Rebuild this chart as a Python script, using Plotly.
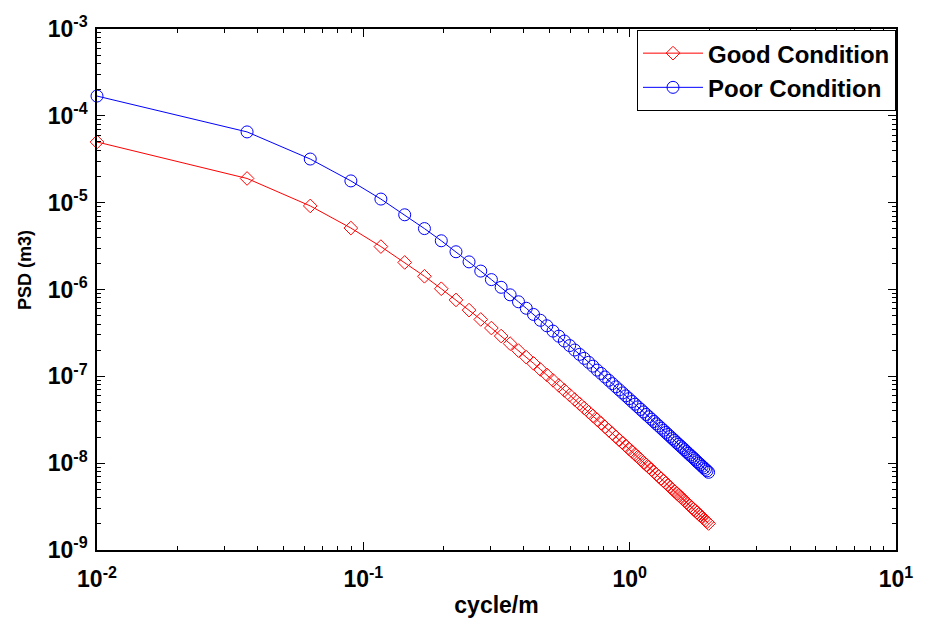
import plotly.graph_objects as go

# spatial frequency (cycle/m)
freq = [0.0100, 0.0366, 0.0632, 0.0898, 0.1164, 0.1430, 0.1696, 0.1962, 0.2228, 0.2494,
        0.2760, 0.3026, 0.3292, 0.3558, 0.3824, 0.4090, 0.4356, 0.4622, 0.4888, 0.5154,
        0.5420, 0.5686, 0.5952, 0.6218, 0.6484, 0.6750, 0.7016, 0.7282, 0.7548, 0.7814,
        0.8080, 0.8346, 0.8612, 0.8878, 0.9144, 0.9410, 0.9676, 0.9942, 1.0208, 1.0474,
        1.0740, 1.1006, 1.1272, 1.1538, 1.1804, 1.2070, 1.2336, 1.2602, 1.2868, 1.3134,
        1.3400, 1.3666, 1.3932, 1.4198, 1.4464, 1.4730, 1.4996, 1.5262, 1.5528, 1.5794,
        1.6060, 1.6326, 1.6592, 1.6858, 1.7124, 1.7390, 1.7656, 1.7922, 1.8188, 1.8454,
        1.8720, 1.8986, 1.9252, 1.9518, 1.9784]

good = [5.00e-5, 1.90e-5, 9.17e-6, 5.10e-6, 3.12e-6, 2.05e-6, 1.42e-6, 1.02e-6, 7.58e-7, 5.79e-7,
        4.52e-7, 3.60e-7, 2.91e-7, 2.38e-7, 1.98e-7, 1.66e-7, 1.41e-7, 1.20e-7, 1.04e-7, 9.00e-8,
        7.86e-8, 6.90e-8, 6.09e-8, 5.41e-8, 4.82e-8, 4.32e-8, 3.88e-8, 3.50e-8, 3.17e-8, 2.88e-8,
        2.62e-8, 2.39e-8, 2.19e-8, 2.01e-8, 1.85e-8, 1.71e-8, 1.58e-8, 1.46e-8, 1.36e-8, 1.26e-8,
        1.18e-8, 1.10e-8, 1.02e-8, 9.58e-9, 8.98e-9, 8.43e-9, 7.92e-9, 7.45e-9, 7.02e-9, 6.62e-9,
        6.25e-9, 5.90e-9, 5.59e-9, 5.29e-9, 5.01e-9, 4.76e-9, 4.52e-9, 4.30e-9, 4.09e-9, 3.89e-9,
        3.71e-9, 3.54e-9, 3.37e-9, 3.22e-9, 3.08e-9, 2.94e-9, 2.82e-9, 2.70e-9, 2.58e-9, 2.48e-9,
        2.38e-9, 2.28e-9, 2.19e-9, 2.11e-9, 2.02e-9]

poor = [1.69e-4, 6.53e-5, 3.18e-5, 1.78e-5, 1.10e-5, 7.25e-6, 5.03e-6, 3.64e-6, 2.72e-6, 2.08e-6,
        1.63e-6, 1.30e-6, 1.06e-6, 8.68e-7, 7.22e-7, 6.08e-7, 5.16e-7, 4.42e-7, 3.82e-7, 3.32e-7,
        2.90e-7, 2.55e-7, 2.26e-7, 2.01e-7, 1.79e-7, 1.61e-7, 1.45e-7, 1.31e-7, 1.18e-7, 1.08e-7,
        9.83e-8, 8.99e-8, 8.24e-8, 7.57e-8, 6.98e-8, 6.44e-8, 5.96e-8, 5.53e-8, 5.13e-8, 4.78e-8,
        4.45e-8, 4.16e-8, 3.89e-8, 3.64e-8, 3.42e-8, 3.21e-8, 3.02e-8, 2.84e-8, 2.68e-8, 2.53e-8,
        2.39e-8, 2.26e-8, 2.14e-8, 2.03e-8, 1.92e-8, 1.83e-8, 1.73e-8, 1.65e-8, 1.57e-8, 1.50e-8,
        1.43e-8, 1.36e-8, 1.30e-8, 1.24e-8, 1.19e-8, 1.14e-8, 1.09e-8, 1.04e-8, 9.99e-9, 9.59e-9,
        9.20e-9, 8.83e-9, 8.49e-9, 8.16e-9, 7.85e-9]

x_tickvals = [1e-2, 1e-1, 1e0, 1e1]
x_ticktext = ["10<sup>-2</sup>", "10<sup>-1</sup>", "10<sup>0</sup>", "10<sup>1</sup>"]
y_tickvals = [1e-9, 1e-8, 1e-7, 1e-6, 1e-5, 1e-4, 1e-3]
y_ticktext = ["10<sup>-9</sup>", "10<sup>-8</sup>", "10<sup>-7</sup>", "10<sup>-6</sup>",
              "10<sup>-5</sup>", "10<sup>-4</sup>", "10<sup>-3</sup>"]

FONT = "Liberation Sans, Arial, sans-serif"

fig = go.Figure()
fig.add_trace(go.Scatter(
    x=freq, y=good, name="Good Condition", mode="lines+markers", cliponaxis=False,
    line=dict(color="#ff0000", width=1),
    marker=dict(symbol="diamond-open", size=10.5, color="#ff0000", line=dict(width=1, color="#ff0000")),
))
fig.add_trace(go.Scatter(
    x=freq, y=poor, name="Poor Condition", mode="lines+markers", cliponaxis=False,
    line=dict(color="#0000ff", width=1),
    marker=dict(symbol="circle-open", size=12, color="#0000ff", line=dict(width=1, color="#0000ff")),
))

minor_x = [m * 10.0 ** e for e in range(-2, 1) for m in range(2, 10)]
minor_y = [m * 10.0 ** e for e in range(-9, -3) for m in range(2, 10)]

axis_common = dict(
    type="log", showgrid=False, zeroline=False,
    showline=True, linecolor="black", linewidth=1.5, mirror="allticks",
    ticks="inside", ticklen=8, tickwidth=1, tickcolor="black",
    tickfont=dict(family=FONT, size=23, color="black", weight="bold"),
)

fig.update_xaxes(
    range=[-2, 1], tickmode="array", tickvals=x_tickvals, ticktext=x_ticktext,
    ticklabelstandoff=8,
    minor=dict(tickmode="array", tickvals=minor_x, ticks="inside", ticklen=4,
               tickwidth=1, tickcolor="black", showgrid=False),
    title=dict(text="cycle/m", font=dict(family=FONT, size=23, color="black", weight="bold"), standoff=6),
    **axis_common,
)
fig.update_yaxes(
    range=[-9, -3], tickmode="array", tickvals=y_tickvals, ticktext=y_ticktext,
    ticklabelstandoff=3,
    minor=dict(tickmode="array", tickvals=minor_y, ticks="inside", ticklen=4,
               tickwidth=1, tickcolor="black", showgrid=False),
    **axis_common,
)

fig.add_annotation(
    text="PSD (m3)", textangle=-90, xref="paper", yref="paper",
    x=-0.0903, y=0.537, xanchor="center", yanchor="middle", showarrow=False,
    font=dict(family=FONT, size=18, color="black", weight="bold"),
)

fig.update_layout(
    width=925, height=628,
    margin=dict(l=97, r=20, t=23, b=78),
    paper_bgcolor="white", plot_bgcolor="white",
    showlegend=True,
    legend=dict(
        x=1.0, y=0.998, xanchor="right", yanchor="top",
        bgcolor="white", bordercolor="black", borderwidth=1,
        font=dict(family=FONT, size=24, color="black", weight="bold"),
        itemwidth=60, tracegroupgap=0,
    ),
)

fig.write_html("out.html")
